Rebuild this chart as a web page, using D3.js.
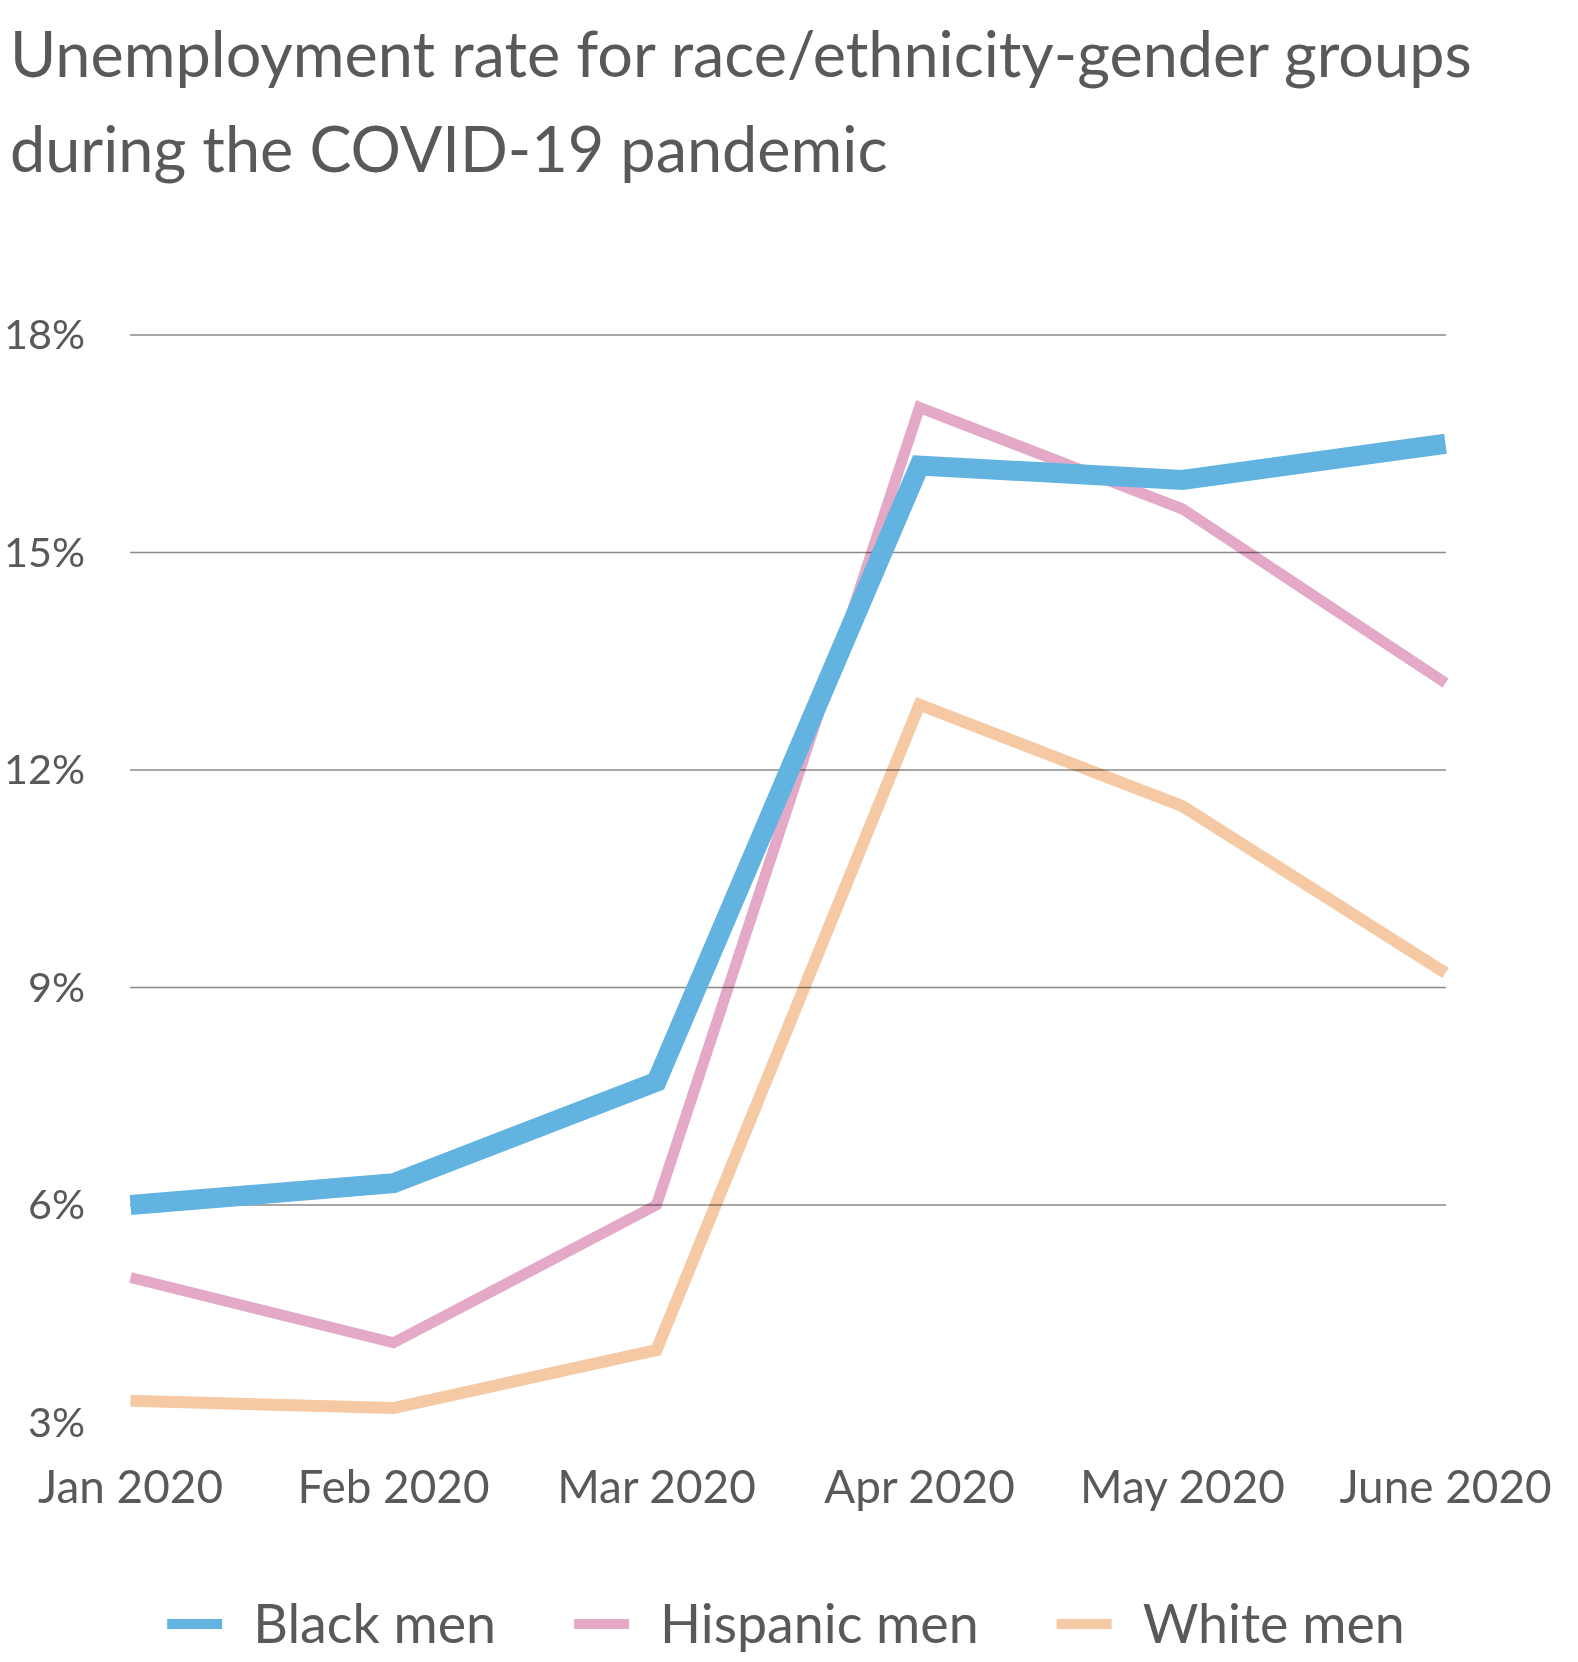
<!DOCTYPE html>
<html><head><meta charset="utf-8">
<script src="https://cdn.jsdelivr.net/npm/d3@7"></script>
<style>
html,body{margin:0;padding:0;background:#fff;}
svg{display:block;}
text{font-family:Lato,"Noto Sans",sans-serif;fill:#595959;}
</style></head>
<body>
<svg id="chart" width="1578" height="1662"></svg>
<script>
const months = ["Jan 2020","Feb 2020","Mar 2020","Apr 2020","May 2020","June 2020"];
const blackMen = [6.0, 6.3, 7.7, 16.2, 16.0, 16.5];
const hispanicMen = [5.0, 4.1, 6.0, 17.0, 15.6, 13.2];
const whiteMen = [3.3, 3.2, 4.0, 12.9, 11.5, 9.2];
const gridTicks = [6, 9, 12, 15, 18];
const labelTicks = [3, 6, 9, 12, 15, 18];
const titleLines = ["Unemployment rate for race/ethnicity-gender groups","during the COVID-19 pandemic"];
const seriesNames = ["Black men","Hispanic men","White men"];

const colors = {"Black men":"#63b3e0","Hispanic men":"#e3a9c7","White men":"#f5c9a3"};
const widths = {"Black men":20,"Hispanic men":11,"White men":12};

const svg = d3.select("#chart");
const x = d3.scalePoint().domain(months).range([130.5, 1445.5]);
const y = d3.scaleLinear().domain([3, 18]).range([1422.5, 335]);

// title
const title = svg.append("g");
titleLines.forEach((t,i)=>{
  title.append("text").attr("x",10).attr("y",77 + i*95)
    .style("font-size","62px").style("font-weight",400).text(t);
});
// fit title width
(function(){
  const first = title.select("text").node();
  const w = first.getComputedTextLength();
  const s = 62 * 1462 / w;
  title.selectAll("text").style("font-size", s + "px");
})();

// gridlines
svg.append("g").selectAll("line").data(gridTicks).join("line")
  .attr("x1",130).attr("x2",1446)
  .attr("y1",d=>y(d)).attr("y2",d=>y(d))
  .attr("stroke","#8a8a8a").attr("stroke-width",1.5);

// y labels
const yl = svg.append("g").selectAll("text").data(labelTicks).join("text")
  .attr("x",85).attr("y",d=>y(d)).attr("dy","0.35em")
  .attr("text-anchor","end").style("font-size","48px")
  .text(d=>d+"%");

// x labels
const xl = svg.append("g").selectAll("text").data(months).join("text")
  .attr("x",d=>x(d)).attr("y",1503).attr("text-anchor","middle")
  .style("font-size","48px").text(d=>d);
(function(){
  const w = xl.node().getComputedTextLength();
  const s = 48 * 185 / w;
  xl.style("font-size", s+"px");
  const w2 = yl.filter(d=>d===18).node().getComputedTextLength();
  yl.style("font-size", (48*81/w2)+"px");
})();

// lines
const line = d3.line().x((d,i)=>x(months[i])).y(d=>y(d));
const data = [
  {name:"White men", values:whiteMen},
  {name:"Hispanic men", values:hispanicMen},
  {name:"Black men", values:blackMen}
];
svg.append("g").selectAll("path").data(data).join("path")
  .attr("d",d=>line(d.values))
  .attr("fill","none")
  .attr("stroke",d=>colors[d.name])
  .attr("stroke-width",d=>widths[d.name])
  .attr("stroke-linejoin","miter")
  .attr("stroke-linecap","butt")
  .style("mix-blend-mode",d=>d.name==="Black men"?"normal":"multiply");

// legend
const lg = svg.append("g");
const items = seriesNames.map(n=>{
  const g = lg.append("g");
  g.append("line").attr("x1",0).attr("x2",55).attr("y1",0).attr("y2",0)
    .attr("stroke",colors[n]).attr("stroke-width",10);
  const t = g.append("text").attr("x",86).attr("y",0).attr("dy","0.35em")
    .style("font-size","52px").text(n);
  return {g,t};
});
(function(){
  const w0 = items[0].t.node().getComputedTextLength();
  const s = 52*243/w0;
  items.forEach(it=>it.t.style("font-size",s+"px"));
  const ws = items.map(it=>86 + it.t.node().getComputedTextLength());
  const total = d3.sum(ws) + 78*(ws.length-1);
  let cx = 786 - total/2;
  items.forEach((it,i)=>{
    it.g.attr("transform",`translate(${cx},1624)`);
    cx += ws[i] + 78;
  });
})();
</script>
</body></html>
